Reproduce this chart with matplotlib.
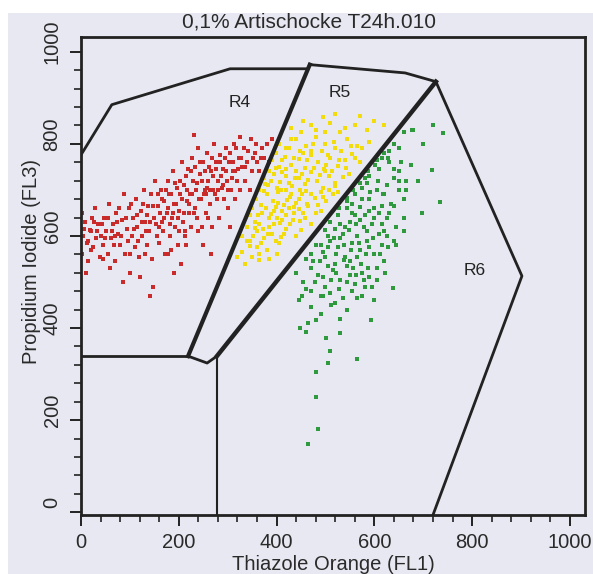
import matplotlib.pyplot as plt
from matplotlib.patches import Rectangle
from matplotlib.transforms import ScaledTranslation
from matplotlib.ticker import MultipleLocator

plt.rcParams['font.family'] = ['Liberation Sans', 'DejaVu Sans']

# events in gate R4 (red)
red_x = [3, 5, 8, 12, 15, 18, 22, 25, 30, 35, 38, 2, 10, 28, 40,
         45, 48, 52, 55, 58, 62, 66, 70, 72, 75, 80, 84, 88, 90, 94, 98, 100, 85,
         104, 106, 110, 112, 115, 118, 122, 125, 128, 130, 134, 138, 140, 144, 146, 150, 152, 155, 158, 160, 120, 148,
         163, 165, 168, 170, 172, 175, 178, 180, 183, 186, 188, 190, 193, 196, 198, 200, 203, 206, 208, 210, 213, 216, 218, 220, 205, 190,
         223, 225, 228, 230, 233, 236, 238, 240, 243, 246, 248, 250, 253, 256, 258, 260, 263, 266, 268, 270, 273, 276, 278, 280, 250, 265,
         283, 285, 288, 290, 293, 296, 298, 300, 303, 306, 310, 313, 316, 320, 323, 326, 330, 333, 336, 340, 345, 350, 355, 360, 348, 305,
         365, 370, 375, 380, 385, 390, 325, 232, 142, 60, 20, 178, 212, 255,
         6, 14, 20, 26, 33, 42, 50, 56, 64, 68, 74, 78, 82, 92, 96, 102, 108, 114, 117, 124, 127, 132, 136,
         142, 148, 154, 157, 162, 166, 169, 174, 177, 182, 185, 189, 192, 195, 199, 202, 207, 211, 214, 217,
         221, 224, 227, 231, 234, 237, 241, 244, 247, 251, 254, 257, 261, 264, 267, 271, 274, 277, 281, 284,
         287, 291, 294, 297, 301, 304, 308, 311, 315, 318, 322, 328, 335, 342, 352, 358, 368, 240, 215, 185,
         130, 70, 45, 100, 160, 200, 260]
red_y = [560, 600, 630, 585, 545, 612, 640, 575, 595, 625, 555, 650, 520, 660, 600,
         580, 640, 610, 560, 670, 595, 625, 545, 650, 605, 580, 635, 690, 560, 615, 660, 520, 500,
         600, 640, 575, 680, 620, 555, 655, 600, 700, 630, 580, 665, 610, 690, 550, 640, 720, 600, 665, 585, 510, 490,
         700, 630, 610, 675, 560, 650, 720, 690, 600, 640, 740, 670, 620, 705, 580, 655, 690, 760, 630, 710, 600, 675, 745, 650, 540, 520,
         690, 620, 770, 720, 660, 700, 640, 790, 735, 680, 620, 760, 700, 650, 780, 720, 670, 740, 620, 700, 800, 760, 680, 720, 580, 560,
         640, 775, 705, 745, 680, 790, 720, 660, 760, 700, 740, 800, 680, 720, 770, 700, 750, 790, 720, 760, 700, 740, 780, 760, 810, 620,
         740, 790, 770, 800, 760, 810, 815, 820, 470, 530, 610, 560, 610, 690,
         615, 590, 570, 630, 610, 625, 595, 640, 610, 580, 630, 660, 600, 640, 590, 670, 615, 645, 590, 630, 670, 610, 645,
         630, 665, 625, 690, 650, 680, 640, 700, 660, 625, 690, 650, 715, 670, 640, 720, 680, 650, 730, 700,
         670, 740, 690, 650, 750, 715, 680, 760, 720, 690, 740, 705, 750, 700, 770, 730, 690, 745, 700, 760,
         730, 710, 770, 740, 700, 780, 725, 760, 740, 790, 745, 770, 750, 785, 770, 800, 770, 610, 580, 570,
         560, 600, 550, 560, 620, 610, 640]

# events in gate R5 (yellow)
yellow_x = [335, 350, 330, 365, 380, 345, 400, 360,
            330, 345, 360, 375, 390, 405, 420, 440, 355, 385, 410, 450,
            345, 355, 370, 385, 395, 408, 420, 433, 445, 458, 470, 480, 365, 400, 425, 490,
            358, 368, 380, 392, 404, 415, 428, 440, 452, 465, 478, 490, 502, 515, 375, 420, 460, 525, 398, 445,
            374, 382, 395, 408, 420, 432, 445, 458, 470, 482, 495, 508, 520, 535, 548, 400, 440, 500, 385,
            390, 405, 418, 430, 445, 458, 470, 485, 498, 510, 525, 540, 555, 570, 455, 420,
            405, 420, 440, 460, 480, 500, 520, 545, 565, 590, 470,
            430, 455, 480, 510, 540, 570, 600, 620, 520, 495,
            340, 352, 368, 372, 383, 395, 398, 412, 415, 428, 436, 448, 455, 462, 350, 362, 378, 388,
            402, 412, 422, 435, 448, 470, 484, 496, 508, 520, 364, 376, 388, 398, 412, 426, 438, 452,
            465, 476, 488, 502, 514, 528, 542, 560, 398, 412, 426, 436, 448, 462, 475, 492, 506, 518,
            532, 552, 575, 430, 450, 470, 500, 530, 560, 585, 410, 430, 365, 385, 320, 340]
yellow_y = [540, 555, 565, 548, 570, 578, 560, 575,
            600, 590, 610, 595, 605, 585, 615, 600, 618, 620, 598, 612,
            645, 630, 650, 638, 655, 628, 645, 635, 658, 640, 625, 650, 625, 640, 660, 655,
            680, 668, 690, 675, 695, 668, 685, 672, 690, 665, 682, 695, 675, 690, 698, 700, 698, 695, 662, 680,
            725, 710, 735, 718, 730, 708, 725, 712, 738, 720, 705, 730, 715, 728, 735, 705, 740, 740, 740,
            765, 750, 772, 755, 768, 748, 775, 760, 745, 770, 752, 765, 778, 760, 780, 745,
            800, 790, 810, 795, 815, 800, 790, 810, 795, 805, 785,
            835, 850, 830, 845, 835, 860, 850, 840, 865, 858,
            590, 600, 585, 615, 605, 625, 590, 635, 605, 625, 650, 632, 650, 670, 660, 645, 660, 648,
            672, 655, 678, 662, 700, 690, 668, 685, 700, 708, 700, 712, 720, 748, 738, 715, 725, 735,
            722, 748, 732, 755, 740, 765, 748, 770, 780, 765, 790, 770, 785, 765, 800, 785, 775, 805,
            785, 795, 790, 810, 825, 840, 825, 825, 840, 830, 700, 690, 560, 550, 555, 620]

# events in gate R6 (green)
green_x = [640, 660, 680, 720, 740, 677, 650, 700, 630, 615,
           590, 610, 630, 650, 675, 718, 605, 580, 640, 665,
           560, 575, 590, 605, 620, 635, 650, 697, 734, 555, 570, 585, 615, 545, 600, 660,
           510, 525, 540, 555, 570, 585, 600, 615, 630, 520, 500, 535, 565, 590, 645, 610, 550, 580, 625,
           480, 495, 510, 525, 540, 555, 570, 585, 600, 615, 460, 475, 530, 550, 500, 620, 565, 590, 640,
           440, 455, 470, 485, 500, 515, 530, 545, 560, 575, 590, 605, 460, 520, 550, 580,
           445, 470, 495, 520, 545, 565, 490, 530, 448, 460, 593, 638, 464, 480, 510,
           501, 530, 509, 505, 564, 481, 481, 485, 465,
           528, 556, 570, 588, 602, 620, 628, 545, 560, 575, 592, 608, 625, 640, 655, 545,
           505, 518, 530, 548, 562, 578, 595, 610, 625, 640, 490, 505, 522, 538, 552, 568, 582, 598, 612, 628,
           470, 488, 505, 522, 538, 556, 572, 588, 605, 622, 478, 495, 512, 528, 545, 562, 578, 596,
           490, 512, 535, 555, 575, 600, 470, 452, 618, 650, 665, 690, 660, 645, 660, 620]
green_y = [800, 825, 830, 841, 824, 830, 790, 800, 785, 770,
           730, 745, 760, 740, 755, 743, 765, 725, 725, 720,
           690, 705, 680, 700, 690, 670, 700, 650, 674, 670, 662, 715, 665, 675, 660, 680,
           630, 645, 620, 650, 635, 610, 640, 625, 650, 615, 612, 605, 600, 655, 620, 605, 630, 645, 600,
           580, 565, 590, 575, 555, 585, 570, 590, 560, 580, 550, 545, 595, 545, 555, 545, 555, 575, 590,
           520, 500, 530, 515, 490, 525, 505, 535, 495, 520, 510, 530, 485, 540, 515, 490,
           460, 445, 470, 455, 440, 465, 430, 420, 400, 391, 417, 487, 411, 417, 475,
           378, 389, 350, 324, 333, 304, 250, 180, 148,
           660, 700, 715, 740, 755, 780, 770, 660, 645, 680, 695, 720, 710, 745, 760, 682,
           600, 595, 625, 612, 625, 620, 625, 650, 640, 665, 580, 575, 560, 580, 570, 585, 560, 595, 560, 575,
           560, 545, 535, 520, 548, 530, 540, 530, 505, 520, 500, 510, 505, 485, 500, 515, 505, 490,
           470, 450, 465, 480, 470, 460, 480, 470, 690, 720, 700, 720, 640, 580, 610, 610]

# gate outlines (FL1, FL3)
r4_x = [0, 63, 305, 464]
r4_y = [776, 885, 963, 963]
r4_bottom_x = [219, 0]
r4_bottom_y = [339, 339]
r45_x = [468, 219]
r45_y = [972, 339]
r5_top_x = [468, 663, 726]
r5_top_y = [972, 954, 935]
r56_x = [726, 278]
r56_y = [935, 339]
r5_foot_x = [278, 258, 219]
r5_foot_y = [339, 324, 339]
r6_x = [726, 902, 720]
r6_y = [935, 513, -6]
r6_left_x = [278, 278]
r6_left_y = [339, -6]

bg = '#e7e8f1'
fig = plt.figure(figsize=(5.93, 5.74), dpi=100, facecolor=bg)
fig.patches.append(Rectangle((0, 1 - 13 / 574), 1, 13 / 574, transform=fig.transFigure,
                             facecolor='white', edgecolor='none', zorder=-1))
fig.patches.append(Rectangle((0, 0), 8 / 593, 1, transform=fig.transFigure,
                             facecolor='white', edgecolor='none', zorder=-1))

ax = fig.add_axes([81 / 593, 59 / 574, 504 / 593, 478 / 574])
ax.set_facecolor(bg)

ax.scatter(red_x, red_y, s=8, marker='s', color='#c92a2a', linewidths=0)
ax.scatter(yellow_x, yellow_y, s=8, marker='s', color='#f3dc0c', linewidths=0)
ax.scatter(green_x, green_y, s=8, marker='s', color='#2f9a3d', linewidths=0)

lc = '#222222'
ax.plot(r4_x, r4_y, color=lc, lw=2.0)
ax.plot(r4_bottom_x, r4_bottom_y, color=lc, lw=2.0)
ax.plot(r45_x, r45_y, color=lc, lw=3.0)
ax.plot(r5_top_x, r5_top_y, color=lc, lw=2.0)
ax.plot(r56_x, r56_y, color=lc, lw=3.2)
ax.plot(r5_foot_x, r5_foot_y, color=lc, lw=2.0)
ax.plot(r6_x, r6_y, color=lc, lw=2.0)
ax.plot(r6_left_x, r6_left_y, color=lc, lw=1.5)

ax.text(325, 889, 'R4', fontsize=12.5, color='#222222', ha='center', va='center')
ax.text(530, 911, 'R5', fontsize=12.5, color='#222222', ha='center', va='center')
ax.text(806, 526, 'R6', fontsize=12.5, color='#222222', ha='center', va='center')

ax.set_xlim(0, 1031)
ax.set_ylim(-6, 1032)
ax.xaxis.set_major_locator(MultipleLocator(200))
ax.xaxis.set_minor_locator(MultipleLocator(40))
ax.yaxis.set_major_locator(MultipleLocator(200))
ax.yaxis.set_minor_locator(MultipleLocator(40))
ax.tick_params(which='major', length=8, width=1.4, color=lc, labelsize=14.5, labelcolor='#2a2a2a')
ax.tick_params(which='minor', length=5, width=1.2, color=lc)
ax.tick_params(axis='x', which='major', pad=5)
ax.tick_params(axis='y', which='major', pad=6)
for lbl in ax.get_yticklabels():
    lbl.set_rotation(90)
    lbl.set_va('center')
    lbl.set_transform(lbl.get_transform() + ScaledTranslation(0, 0.1, fig.dpi_scale_trans))
for sp in ax.spines.values():
    sp.set_linewidth(2.0)
    sp.set_color(lc)

fig.text(309 / 593, 1 - 22 / 574, '0,1% Artischocke T24h.010', fontsize=15,
         color='#2a2a2a', ha='center', va='center')
fig.text(333 / 593, 1 - 564 / 574, 'Thiazole Orange (FL1)', fontsize=14.5,
         color='#2a2a2a', ha='center', va='center')
fig.text(32 / 593, 1 - 262 / 574, 'Propidium Iodide (FL3)', fontsize=14.5,
         color='#2a2a2a', ha='center', va='center', rotation=90)

fig.savefig('out.png', dpi=100, facecolor=bg)
